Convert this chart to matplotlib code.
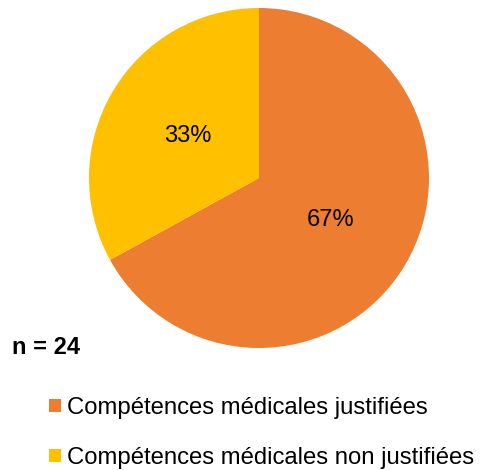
import matplotlib.pyplot as plt
from matplotlib.patches import Patch

plt.rcParams['font.family'] = ['Liberation Sans', 'DejaVu Sans']

labels = ["Compétences médicales justifiées", "Compétences médicales non justifiées"]
values = [67, 33]
colors = ["#ED7D31", "#FFC000"]
n_total = 24

W, H = 481, 470
fig = plt.figure(figsize=(W / 100, H / 100), dpi=100)

# pie: centre (259,178) px, radius 170 px
cx, cy, r = 259, 178, 170
ax = fig.add_axes([(cx - r) / W, (H - cy - r) / H, 2 * r / W, 2 * r / H])
ax.pie(values, colors=colors, startangle=90, counterclock=False,
       autopct='%d%%', pctdistance=0.49,
       textprops={'fontsize': 17, 'color': 'black'},
       wedgeprops={'linewidth': 0})
ax.set_xlim(-1, 1)
ax.set_ylim(-1, 1)
ax.set_aspect('equal')

fig.text(12 / W, 1 - 347 / H, "n = %d" % n_total, fontsize=17,
         fontweight='bold', va='center', ha='left')

handles = [Patch(facecolor=c, edgecolor='none') for c in colors]
fig.legend(handles, labels, loc='upper left',
           bbox_to_anchor=(49 / W, 1 - 397 / H), frameon=False,
           fontsize=17.2, handlelength=0.5, handleheight=0.5,
           handletextpad=0.25, labelspacing=1.17, borderpad=0,
           borderaxespad=0)

fig.savefig("out.png", dpi=100)
